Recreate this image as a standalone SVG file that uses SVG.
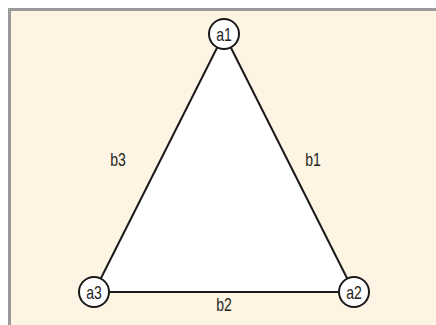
<svg xmlns="http://www.w3.org/2000/svg" width="436" height="325" viewBox="0 0 436 325">
<style>
.node circle{fill:#fff;stroke:#1a1a1a;stroke-width:2}
text{font-family:"Liberation Sans",Arial,sans-serif;font-size:18px;fill:#231f20;text-anchor:middle}
.edge{stroke:#1a1a1a;stroke-width:2;fill:none}
</style>
<rect x="0" y="0" width="436" height="325" fill="#fff"/>
<rect x="8" y="8" width="428" height="317" fill="#9a9a9a"/>
<rect x="11" y="11" width="425" height="314" fill="#fdf4e3"/>
<g id="connectors">
<polygon points="224,34 354,292 94,292" fill="#fff" stroke="none"/>
<line class="edge" x1="224" y1="34" x2="354" y2="292"/>
<line class="edge" x1="354" y1="292" x2="94" y2="292"/>
<line class="edge" x1="94" y1="292" x2="224" y2="34"/>
<text transform="translate(313 166) scale(0.78 1)">b1</text>
<text transform="translate(224 311) scale(0.78 1)">b2</text>
<text transform="translate(118 166) scale(0.78 1)">b3</text>
</g>
<g id="a1" class="node"><circle cx="224" cy="34" r="15"/><text transform="translate(224 40.5) scale(0.78 1)">a1</text></g>
<g id="a2" class="node"><circle cx="354" cy="292" r="15"/><text transform="translate(354 298.5) scale(0.78 1)">a2</text></g>
<g id="a3" class="node"><circle cx="94" cy="292" r="15"/><text transform="translate(94 298.5) scale(0.78 1)">a3</text></g>
</svg>
